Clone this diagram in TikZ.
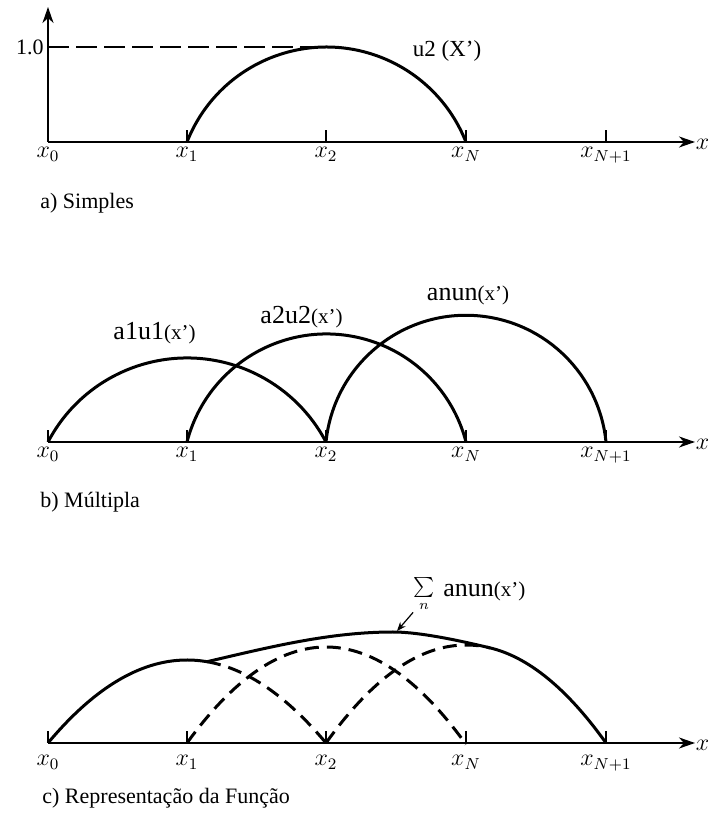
\documentclass[tikz,border=0pt]{standalone}
\usepackage{fontspec}
\setmainfont{Liberation Serif}
\usetikzlibrary{arrows.meta,positioning}
\tikzset{
  axisline/.style={line width=1.1pt,-{Stealth[length=8pt,width=5.5pt,inset=2.5pt]}},
  tickline/.style={line width=1.1pt},
  hump/.style={line width=1.5pt},
  dashhump/.style={line width=1.5pt,dash pattern=on 7pt off 4pt},
  levelline/.style={line width=1pt,dash pattern=on 10.5pt off 3.5pt},
  xlab/.style={anchor=north,inner sep=0pt,font=\fontsize{11.5}{13}\selectfont},
  caption/.style={anchor=west,inner sep=0pt,font=\fontsize{11}{13}\selectfont},
  funlab/.style={inner sep=0pt,font=\fontsize{13}{15}\selectfont},
  pointer/.style={line width=0.6pt,-{Stealth[length=4.5pt,width=3.5pt]}}
}
\newcommand{\smallarg}[1]{{\fontsize{10.5}{12}\selectfont(#1)}}

\begin{document}
\begin{tikzpicture}[x=0.5pt,y=0.5pt]
\clip (0,0) rectangle (710,818);

% a) simples
\begin{scope}[shift={(0,676)}]
  \draw[axisline] (48,0) -- (48,135);
  \draw[axisline] (48,0) -- (695,0);
  \foreach \t in {187,326,466,606}
    \draw[tickline] (\t,0) -- (\t,12);
  \foreach \t/\s/\n in {48/0/0,187/1/1,326/2/2,466/N/3,606/{N+1}/4}
    \node[xlab] (xa\n) at (\t,-5) {$x_{\s}$};
  \node[xlab,anchor=east] (xaend) at (709.5,-2) {$x$};
  \draw[levelline] (48,95) -- (326,95);
  \node[anchor=east,inner sep=0pt,font=\fontsize{11}{13}\selectfont] (one) at (44,95) {1.0};
  \draw[hump] (187,0) arc[start angle=158.5,end angle=21.5,radius=149.9];
  \node[inner sep=0pt,font=\fontsize{11.5}{13}\selectfont] (ulab) at (447,91) {u2 (X')};
  \node[caption] (capa) at (40,-61) {a) Simples};
\end{scope}

% b) multipla
\begin{scope}[shift={(0,376)}]
  \draw[axisline] (48,0) -- (695,0);
  \foreach \t in {48,187,326,466,606}
    \draw[tickline] (\t,0) -- (\t,12);
  \foreach \t/\s/\n in {48/0/0,187/1/1,326/2/2,466/N/3,606/{N+1}/4}
    \node[xlab] (xb\n) at (\t,-5) {$x_{\s}$};
  \node[xlab,anchor=east] (xbend) at (709.5,-2) {$x$};
  \draw[hump] (48,0) arc[start angle=152.3,end angle=27.7,radius=157];
  \draw[hump] (187,0) arc[start angle=165.5,end angle=14.5,radius=144.1];
  \draw[hump] (326,0) arc[start angle=174.3,end angle=5.7,radius=140.7];
  \node[funlab] (lab1) at (154.5,109) {a1u1\smallarg{x'}};
  \node[funlab] (lab2) at (301.5,125) {a2u2\smallarg{x'}};
  \node[funlab] (labn) at (468,147) {anun\smallarg{x'}};
  \node[caption] (capb) at (40,-60) {b) Múltipla};
\end{scope}

% c) representacao
\begin{scope}[shift={(0,75)}]
  \draw[axisline] (48,0) -- (695,0);
  \foreach \t in {48,187,326,466,606}
    \draw[tickline] (\t,0) -- (\t,12);
  \foreach \t/\s/\n in {48/0/0,187/1/1,326/2/2,466/N/3,606/{N+1}/4}
    \node[xlab] (xc\n) at (\t,-12) {$x_{\s}$};
  \node[xlab,anchor=east] (xcend) at (709.5,-2) {$x$};
  \draw[dashhump] plot[domain=207:326,samples=40] (\x,{83*(1-((\x-187)/139)^2)});
  \draw[dashhump] plot[domain=187:466,samples=60] (\x,{96*(1-((\x-326)/139)^2)});
  \draw[dashhump] plot[domain=326:490,samples=50] (\x,{98*(1-((\x-466)/140)^2)});
  \draw[hump] plot[domain=48:207,samples=50] (\x,{83*(1-((\x-187)/139)^2)})
    .. controls (270,96) and (330,111) .. (393,111)
    .. controls (414,111) and (446,105.7) .. (490,95.1)
    -- plot[domain=490:606,samples=40] (\x,{98*(1-((\x-466)/140)^2)});
  \coordinate (sumtip) at (397,112);
  \node[funlab,anchor=base west] (sumtxt) at (443,146) {anun\smallarg{x'}};
  \node[inner sep=0pt,anchor=base east,font=\fontsize{10}{12}\selectfont] (sumsig)
    at ([xshift=-4pt,yshift=2pt]sumtxt.base west) {$\sum\limits_{n}$};
  \draw[pointer] (sumsig.south west) -- (sumtip);
  \node[caption] (capc) at (42,-55) {c) Representação da Função};
\end{scope}

\end{tikzpicture}
\end{document}
